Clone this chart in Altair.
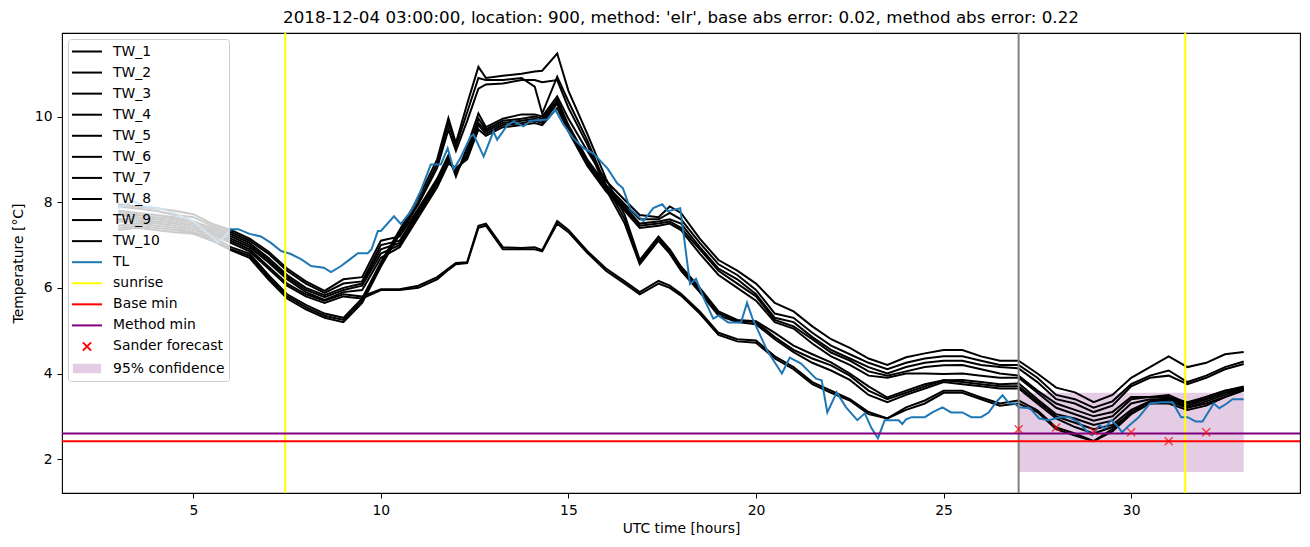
import altair as alt
import pandas as pd

FONT = "DejaVu Sans"
TITLE = "2018-12-04 03:00:00, location: 900, method: 'elr', base abs error: 0.02, method abs error: 0.22"

tw_hours = [3, 3.5, 4, 4.5, 5, 5.5, 6, 6.5, 7, 7.5, 8, 8.5, 9, 9.5, 10, 10.5, 11, 11.5, 11.8, 12,
            12.3, 12.6, 12.8, 13.25, 13.75, 14.1, 14.3, 14.7, 15, 15.5, 16, 16.5, 16.9, 17.4, 17.7, 18,
            18.5, 19, 19.5, 20, 20.5, 21, 21.5, 22, 22.5, 23, 23.5, 24, 24.5, 25, 25.5, 26, 26.5, 27,
            27.5, 28, 28.5, 29, 29.5, 30, 30.5, 31, 31.5, 32, 32.5, 33]

tw_1 = [7.45, 7.5, 7.45, 7.4, 7.3, 7.2, 6.95, 6.8, 6.3, 5.85, 5.6, 5.4, 5.3, 5.75, 6.6, 7.35, 8.1, 9.0, 9.96, 9.38,
        10.3, 11.16, 10.9, 10.95, 11.0, 11.05, 11.07, 11.47, 10.6, 9.6, 8.55, 7.7, 6.65, 7.2, 6.9, 6.5, 6.0, 5.45, 5.25, 5.22,
        4.95, 4.65, 4.45, 4.26, 4.0, 3.7, 3.44, 3.6, 3.75, 3.84, 3.85, 3.8, 3.75, 3.77, 3.4, 3.05, 2.95, 2.8, 2.9, 3.3,
        3.4, 3.4, 3.21, 3.35, 3.5, 3.65]
tw_2 = [7.4, 7.45, 7.4, 7.35, 7.28, 7.15, 6.9, 6.75, 6.25, 5.8, 5.55, 5.35, 5.25, 5.7, 6.55, 7.3, 8.0, 8.9, 9.85, 9.3,
        10.1, 10.9, 10.85, 10.85, 10.9, 10.7, 10.07, 10.93, 10.35, 9.45, 8.4, 7.6, 6.6, 7.15, 6.85, 6.45, 5.95, 5.4, 5.23, 5.2,
        4.85, 4.55, 4.35, 4.19, 3.95, 3.6, 3.4, 3.55, 3.7, 3.84, 3.8, 3.75, 3.7, 3.7, 3.35, 3.0, 2.85, 2.7, 2.8, 3.15,
        3.35, 3.35, 3.2, 3.3, 3.45, 3.63]
tw_3 = [7.35, 7.4, 7.35, 7.3, 7.26, 7.1, 6.88, 6.7, 6.2, 5.75, 5.5, 5.3, 5.2, 5.65, 6.5, 7.25, 7.95, 8.8, 9.7, 9.2,
        9.9, 10.65, 10.75, 10.77, 10.85, 10.85, 10.8, 10.85, 10.2, 9.35, 8.3, 7.5, 6.55, 7.1, 6.8, 6.4, 5.9, 5.35, 5.2, 5.15,
        4.8, 4.5, 4.25, 4.07, 3.85, 3.5, 3.33, 3.5, 3.65, 3.8, 3.75, 3.7, 3.65, 3.65, 3.3, 2.95, 2.75, 2.6, 2.75, 3.07,
        3.3, 3.3, 3.15, 3.25, 3.45, 3.6]
tw_4 = [7.95, 7.9, 7.86, 7.8, 7.72, 7.5, 7.35, 7.15, 6.85, 6.45, 6.15, 5.93, 6.2, 6.25, 7.1, 7.2, 7.85, 8.55, 9.1, 8.6,
        9.3, 10.07, 9.75, 9.95, 10.05, 10.05, 10.0, 10.47, 9.95, 9.2, 8.5, 8.05, 7.7, 7.65, 7.9, 7.75, 7.15, 6.65, 6.4, 6.1,
        5.65, 5.45, 5.1, 4.8, 4.6, 4.35, 4.2, 4.38, 4.47, 4.55, 4.55, 4.4, 4.3, 4.3, 4.0, 3.67, 3.56, 3.33, 3.5, 3.9,
        4.15, 4.4, 4.15, 4.25, 4.45, 4.5]
tw_5 = [7.9, 7.85, 7.8, 7.7, 7.65, 7.45, 7.3, 7.1, 6.8, 6.4, 6.1, 5.88, 6.1, 6.15, 7.0, 7.1, 7.8, 8.5, 9.05, 8.65,
        9.2, 9.95, 9.7, 9.9, 9.95, 10.0, 9.95, 10.4, 9.8, 9.0, 8.4, 7.95, 7.6, 7.6, 7.75, 7.6, 7.05, 6.55, 6.3, 5.95,
        5.4, 5.3, 4.95, 4.65, 4.45, 4.25, 4.1, 4.25, 4.35, 4.4, 4.4, 4.3, 4.2, 4.2, 3.9, 3.5, 3.4, 3.2, 3.35, 3.75,
        3.95, 4.07, 3.8, 3.95, 4.15, 4.28]
tw_6 = [7.8, 7.75, 7.7, 7.65, 7.55, 7.4, 7.25, 7.05, 6.7, 6.3, 6.0, 5.83, 6.0, 6.1, 6.9, 7.05, 7.75, 8.45, 9.0, 8.7,
        9.1, 9.85, 9.65, 9.85, 9.9, 9.95, 9.9, 10.35, 9.75, 8.95, 8.35, 7.9, 7.5, 7.55, 7.6, 7.5, 6.95, 6.45, 6.2, 5.85,
        5.3, 5.2, 4.85, 4.55, 4.35, 4.15, 4.0, 4.15, 4.25, 4.3, 4.3, 4.2, 4.15, 4.12, 3.8, 3.4, 3.3, 3.1, 3.25, 3.7,
        3.9, 3.95, 3.75, 3.9, 4.1, 4.22]
tw_7 = [7.75, 7.7, 7.65, 7.6, 7.5, 7.35, 7.2, 7.0, 6.65, 6.25, 5.95, 5.78, 5.95, 6.05, 6.8, 7.0, 7.7, 8.4, 8.95, 8.75,
        9.05, 9.8, 9.6, 9.8, 9.85, 9.9, 9.85, 10.3, 9.7, 8.9, 8.3, 7.85, 7.45, 7.5, 7.55, 7.4, 6.9, 6.4, 6.1, 5.8,
        5.25, 5.1, 4.8, 4.49, 4.3, 4.05, 3.95, 4.05, 4.15, 4.19, 4.2, 4.1, 4.0, 3.95, 3.6, 3.3, 3.15, 3.0, 3.1, 3.45,
        3.45, 3.5, 3.3, 3.45, 3.6, 3.7]
tw_8 = [7.7, 7.65, 7.6, 7.55, 7.45, 7.3, 7.15, 6.95, 6.6, 6.2, 5.9, 5.72, 5.9, 5.95, 6.7, 6.95, 7.65, 8.35, 8.9, 8.8,
        9.0, 9.7, 9.55, 9.75, 9.8, 9.85, 9.8, 10.2, 9.65, 8.85, 8.25, 7.8, 7.4, 7.45, 7.5, 7.35, 6.8, 6.3, 6.0, 5.7,
        5.2, 5.05, 4.7, 4.4, 4.2, 3.95, 3.9, 4.0, 4.0, 3.99, 4.0, 3.95, 3.9, 3.9, 3.55, 3.2, 3.05, 2.9, 3.0, 3.4,
        3.45, 3.45, 3.25, 3.4, 3.55, 3.67]
tw_9 = [7.6, 7.6, 7.55, 7.5, 7.4, 7.3, 7.1, 6.9, 6.5, 6.1, 5.85, 5.7, 5.85, 5.8, 5.97, 5.97, 6.05, 6.25, 6.45, 6.58,
        6.6, 7.45, 7.5, 6.95, 6.93, 6.95, 6.88, 7.56, 7.35, 6.86, 6.45, 6.15, 5.9, 6.16, 6.05, 5.86, 5.45, 4.95, 4.8, 4.77,
        4.4, 4.15, 3.8, 3.6, 3.4, 3.1, 2.95, 3.21, 3.37, 3.6, 3.6, 3.44, 3.3, 3.37, 3.14, 2.74, 2.6, 2.42, 2.7, 3.1,
        3.35, 3.44, 3.33, 3.45, 3.6, 3.67]
tw_10 = [7.55, 7.55, 7.5, 7.45, 7.35, 7.25, 7.05, 6.85, 6.45, 6.05, 5.8, 5.65, 5.8, 5.75, 5.95, 5.95, 6.0, 6.2, 6.42, 6.55,
         6.58, 7.4, 7.45, 6.9, 6.9, 6.9, 6.85, 7.5, 7.3, 6.82, 6.4, 6.1, 5.85, 6.1, 6.0, 5.82, 5.4, 4.9, 4.75, 4.72,
         4.35, 4.1, 3.75, 3.55, 3.37, 3.05, 2.95, 3.15, 3.3, 3.55, 3.55, 3.4, 3.25, 3.3, 3.1, 2.7, 2.55, 2.42, 2.65, 3.05,
         3.3, 3.4, 3.3, 3.4, 3.55, 3.62]

tl_hours = [3.0, 3.4, 3.7, 4.1, 4.5, 5.0, 5.2, 5.5, 5.66, 5.8, 6.0, 6.2, 6.5, 6.8, 7.07, 7.34, 7.6, 7.87, 8.14, 8.48,
            8.67, 8.94, 9.12, 9.39, 9.65, 9.75, 9.92, 10.0, 10.35, 10.53, 10.8, 11.06, 11.33, 11.6, 11.78, 11.94, 12.1,
            12.39, 12.47, 12.74, 13.0, 13.1, 13.38, 13.54, 13.8, 14.0, 14.44, 14.65, 14.87, 15.13, 15.4, 15.66, 16.04,
            16.3, 16.45, 16.65, 17.0, 17.26, 17.5, 17.65, 17.98, 18.24, 18.4, 18.6, 18.86, 19.0, 19.26, 19.6, 19.76,
            19.9, 20.3, 20.69, 20.9, 21.2, 21.6, 21.75, 21.9, 22.15, 22.4, 22.7, 22.9, 23.08, 23.25, 23.43, 23.8, 23.9,
            24.0, 24.15, 24.5, 24.7, 24.97, 25.2, 25.5, 25.74, 26.0, 26.2, 26.4, 26.57, 26.75, 26.9, 27.0, 27.3, 27.55,
            27.8, 28.1, 28.35, 28.6, 28.8, 28.96, 29.15, 29.3, 29.47, 29.6, 29.76, 29.9, 30.2, 30.5, 30.8, 31.1, 31.33,
            31.5, 31.72, 31.9, 32.2, 32.35, 32.55, 32.7, 33.0]
tl_values = [7.86, 8.02, 7.9, 7.86, 7.74, 7.55, 7.40, 7.2, 7.05, 7.16, 7.37, 7.37, 7.26, 7.2, 7.05, 6.86, 6.79, 6.67,
             6.51, 6.47, 6.37, 6.51, 6.63, 6.81, 6.81, 6.9, 7.33, 7.33, 7.67, 7.49, 7.79, 8.26, 8.88, 8.88, 9.26, 8.77,
             9.0, 9.53, 9.58, 9.07, 9.65, 9.46, 9.81, 9.88, 9.77, 9.9, 9.93, 10.16, 9.81, 9.49, 9.26, 9.14, 8.79, 8.44,
             8.33, 7.84, 7.56, 7.86, 7.95, 7.79, 7.86, 6.09, 6.21, 5.77, 5.28, 5.35, 5.19, 5.19, 5.65, 5.30, 4.53, 4.0,
             4.37, 4.23, 3.88, 3.84, 3.09, 3.56, 3.21, 2.91, 3.07, 2.72, 2.49, 2.91, 2.91, 2.82, 2.93, 2.98, 2.98, 3.09,
             3.21, 3.09, 3.09, 2.98, 2.98, 3.09, 3.33, 3.49, 3.30, 3.30, 3.21, 3.19, 2.95, 2.91, 2.98, 2.98, 2.86, 2.67,
             2.56, 2.79, 2.72, 2.91, 2.8, 2.63, 2.75, 2.98, 3.30, 3.33, 3.33, 2.98, 2.98, 2.88, 2.88, 3.30, 3.19, 3.30,
             3.40, 3.40]

sunrise_hours = [7.45, 31.44]
now_hours = [27.0]
base_min = [2.42]
method_min = [2.60]
sander_hours = [27, 28, 29, 30, 31, 32]
sander_values = [2.70, 2.74, 2.65, 2.63, 2.42, 2.63]
conf_hours = [27.0, 33.0]
conf_range = [1.70, 3.55]

tw_series = [tw_1, tw_2, tw_3, tw_4, tw_5, tw_6, tw_7, tw_8, tw_9, tw_10]
tw_names = [f"TW_{i}" for i in range(1, 11)]

rows = []
for name, vals in zip(tw_names, tw_series):
    for h, v in zip(tw_hours, vals):
        rows.append({"hour": h, "value": v, "series": name})
tw_df = pd.DataFrame(rows)
tl_df = pd.DataFrame({"hour": tl_hours, "value": tl_values})
sun_df = pd.DataFrame({"hour": sunrise_hours})
now_df = pd.DataFrame({"hour": now_hours})
base_df = pd.DataFrame({"value": base_min})
meth_df = pd.DataFrame({"value": method_min})
sander_df = pd.DataFrame({"hour": sander_hours, "value": sander_values})
conf_df = pd.DataFrame({"hour": [conf_hours[0]], "hour_end": [conf_hours[1]],
                        "value": [conf_range[0]], "value_high": [conf_range[1]]})

CONF_COLOR = "#e5cce5"
labels = tw_names + ["TL", "sunrise", "Base min", "Method min", "Sander forecast", "95% confidence"]
legend_colors = ["black"] * 10 + ["#1f77b4", "yellow", "red", "purple", "red", CONF_COLOR]
LINE_SYM = "M-2,0L2,0"
X_SYM = "M-0.55,-0.55L0.55,0.55M-0.55,0.55L0.55,-0.55"
RECT_SYM = "M-1.75,-0.5L1.75,-0.5L1.75,0.5L-1.75,0.5Z"
legend_shapes = [LINE_SYM] * 14 + [X_SYM, RECT_SYM]
legend_df = pd.DataFrame({"label": labels})

x_scale = alt.Scale(domain=[1.5, 34.5], nice=False, zero=False)
y_scale = alt.Scale(domain=[1.21, 11.95], nice=False, zero=False)
x_enc = alt.X("hour:Q", scale=x_scale, title="UTC time [hours]",
              axis=alt.Axis(values=[5, 10, 15, 20, 25, 30], format="d"))
y_enc = alt.Y("value:Q", scale=y_scale, title="Temperature [°C]",
              axis=alt.Axis(values=[2, 4, 6, 8, 10], format="d"))

band = alt.Chart(conf_df).mark_rect(color=CONF_COLOR).encode(
    x=x_enc, x2="hour_end:Q", y=y_enc, y2="value_high:Q")

tw = alt.Chart(tw_df).mark_line(color="black", strokeWidth=2).encode(
    x=x_enc, y=y_enc, detail="series:N")

tl = alt.Chart(tl_df).mark_line(color="#1f77b4", strokeWidth=2).encode(x=x_enc, y=y_enc)

sun = alt.Chart(sun_df).mark_rule(color="yellow", strokeWidth=2).encode(x=x_enc)
now = alt.Chart(now_df).mark_rule(color="#808080", strokeWidth=2).encode(x=x_enc)
base = alt.Chart(base_df).mark_rule(color="red", strokeWidth=2).encode(y=y_enc)
meth = alt.Chart(meth_df).mark_rule(color="purple", strokeWidth=2).encode(y=y_enc)

sander = alt.Chart(sander_df).mark_point(shape="M-1,-1L1,1M-1,1L1,-1", size=64, color="red",
                                         strokeWidth=1.5, filled=False).encode(x=x_enc, y=y_enc)

leg = alt.Legend(title=None, orient="top-left", offset=6, padding=4,
                 fillColor="rgba(255,255,255,0.8)", strokeColor="#cccccc", cornerRadius=3,
                 labelFont=FONT, labelFontSize=13.9, labelColor="black",
                 symbolSize=225, symbolStrokeWidth=2, rowPadding=5.07, labelOffset=17.6,
                 symbolOffset=6.5, symbolOpacity=1, zindex=1, labelLimit=300)

legend_layer = alt.Chart(legend_df).mark_point(opacity=0, size=225, strokeWidth=2, filled=True).encode(
    stroke=alt.Stroke("label:N", scale=alt.Scale(domain=labels, range=legend_colors), legend=leg),
    fill=alt.Fill("label:N", scale=alt.Scale(domain=labels, range=legend_colors), legend=leg),
    shape=alt.Shape("label:N", scale=alt.Scale(domain=labels, range=legend_shapes), legend=leg),
)

chart = alt.layer(band, tw, tl, sun, now, base, meth, sander, legend_layer).properties(
    width=1238, height=460,
    padding={"left": 54, "top": 25, "right": 2, "bottom": 44},
    autosize=alt.AutoSizeParams(type="none"),
    title=alt.TitleParams(TITLE, anchor="middle"),
    background="white",
).configure_view(stroke="black", strokeWidth=1.1).configure_axis(
    labelFont=FONT, labelFontSize=13.9, titleFont=FONT, titleFontSize=13.9, titleFontWeight="normal",
    labelColor="black", titleColor="black", tickColor="black", tickSize=5, tickWidth=1,
    domain=False, grid=False, labelPadding=5,
).configure_axisX(titlePadding=5).configure_axisY(titlePadding=9).configure_title(
    font=FONT, fontSize=16.7, fontWeight="normal", color="black", offset=5)

chart.save("out.html", embed_options={"renderer": "svg", "actions": False})
